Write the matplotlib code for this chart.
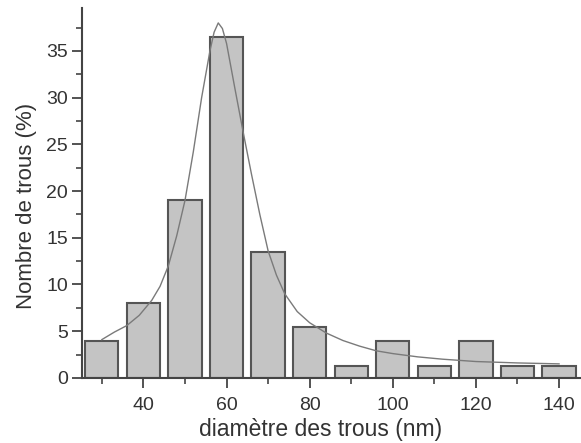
import numpy as np
import matplotlib.pyplot as plt
from matplotlib.ticker import MultipleLocator

plt.rcParams['font.family'] = ['Liberation Sans', 'DejaVu Sans']

# histogram of hole diameters (bin centres in nm, share in %)
diametres = [30, 40, 50, 60, 70, 80, 90, 100, 110, 120, 130, 140]
pourcent = [4.0, 8.0, 19.0, 36.5, 13.5, 5.4, 1.3, 4.0, 1.3, 4.0, 1.3, 1.3]

# fitted curve, points
fit_x = [30, 33, 36, 39, 42, 44, 46, 48, 50, 52, 54, 56, 57, 58, 59, 60, 62,
         64, 66, 68, 70, 72, 74, 77, 80, 84, 88, 92, 96, 100, 106, 112, 120,
         130, 140]
fit_y = [4.1, 4.9, 5.6, 6.7, 8.3, 9.8, 12.0, 15.2, 19.0, 24.2, 30.0, 35.0,
         37.0, 38.0, 37.4, 35.8, 31.0, 26.3, 21.8, 17.5, 13.6, 11.0, 9.0, 7.1,
         5.9, 4.8, 4.0, 3.4, 2.9, 2.6, 2.25, 2.0, 1.75, 1.6, 1.5]

txt = '#333333'
fig = plt.figure(figsize=(5.81, 4.43), dpi=100)
ax = fig.add_axes([0.141, 0.147, 0.857, 0.835])

ax.bar(diametres, pourcent, width=8, color='#c4c4c4', edgecolor='#555555',
       linewidth=1.5, zorder=2)
ax.plot(fit_x, fit_y, color='#7a7a7a', linewidth=1.0, zorder=3)

ax.set_xlim(25.2, 145)
ax.set_ylim(0, 39.6)
ax.xaxis.set_major_locator(MultipleLocator(20))
ax.xaxis.set_minor_locator(MultipleLocator(10))
ax.yaxis.set_major_locator(MultipleLocator(5))
ax.yaxis.set_minor_locator(MultipleLocator(2.5))

for s in ['top', 'right']:
    ax.spines[s].set_visible(False)
for s in ['left', 'bottom']:
    ax.spines[s].set_color('#444444')
    ax.spines[s].set_linewidth(1.5)

ax.tick_params(which='major', length=7, width=1.3, color='#444444',
               labelsize=14, labelcolor=txt)
ax.tick_params(which='minor', length=4, width=1.2, color='#444444')
ax.tick_params(axis='x', which='major', pad=7)
ax.tick_params(axis='y', which='major', pad=3)

ax.set_xlabel('diamètre des trous (nm)', fontsize=16.5, color=txt)
ax.set_ylabel('Nombre de trous (%)', fontsize=16, color=txt)
ax.xaxis.set_label_coords(0.48, -0.108)
ax.yaxis.set_label_coords(-0.09, 0.465)

fig.savefig('out.png', dpi=100)
